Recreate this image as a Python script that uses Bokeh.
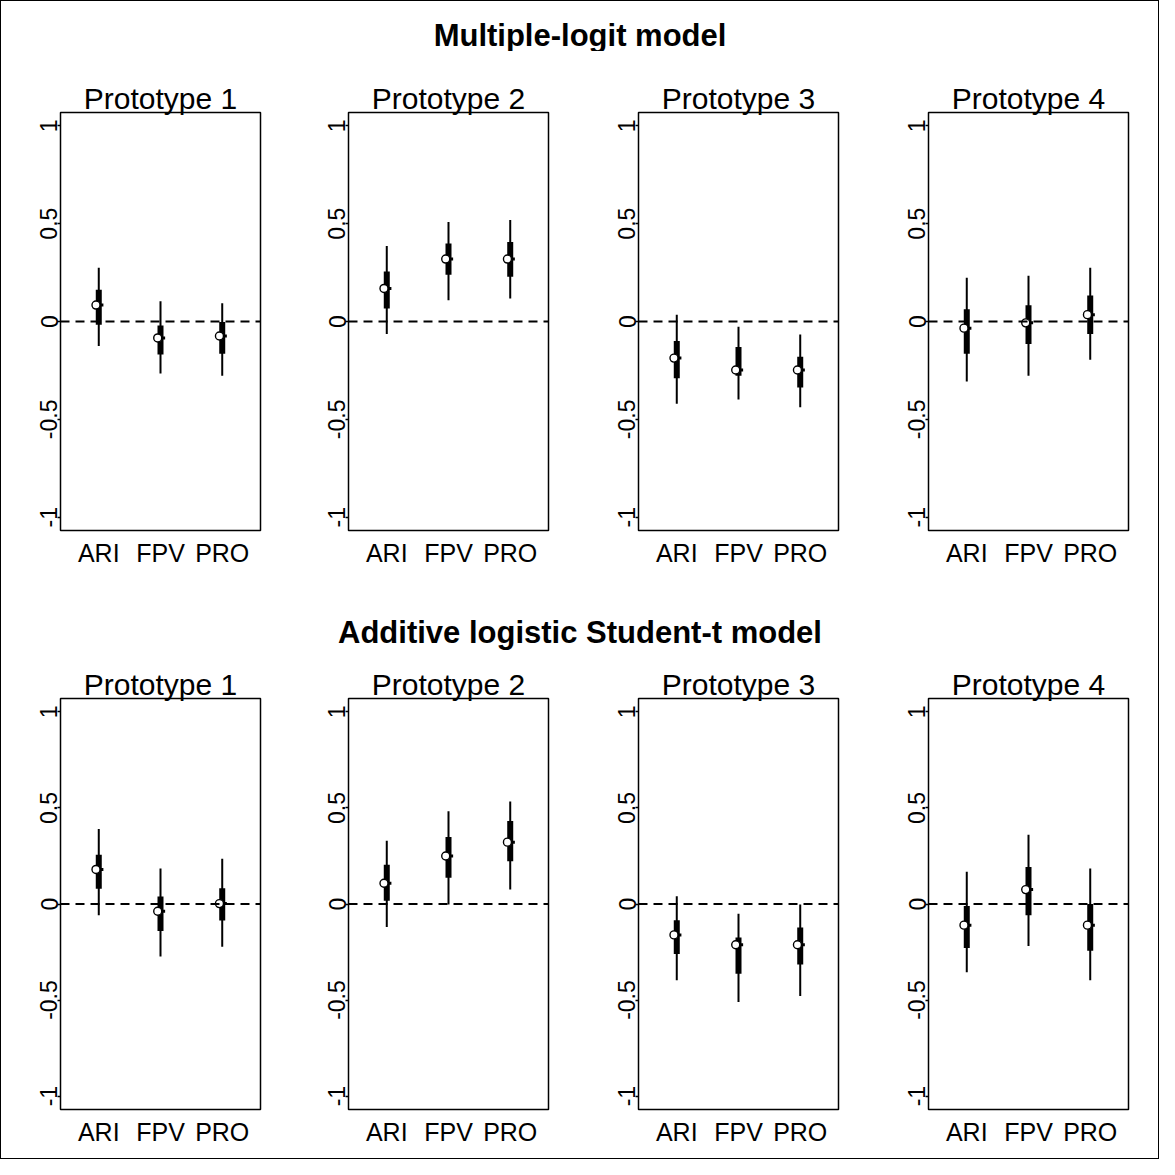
from bokeh.plotting import figure
from bokeh.layouts import column, row
from bokeh.models import Span, FixedTicker, ColumnDataSource, Range1d
from bokeh.transform import dodge
from bokeh.core.properties import value
from bokeh.embed import file_html
from bokeh.resources import INLINE

FONT = "Liberation Sans"

categories = ["ARI", "FPV", "PRO"]
prototypes = ["Prototype 1", "Prototype 2", "Prototype 3", "Prototype 4"]
model_titles = ["Multiple-logit model", "Additive logistic Student-t model"]
y_ticks = [-1, -0.5, 0, 0.5, 1]
y_tick_labels = ["-1", "-0.5", "0", "0.5", "1"]

# Multiple-logit model: per prototype, values for ARI, FPV, PRO
ml_lo95 = [[-0.125, -0.266, -0.277], [-0.064, 0.108, 0.118], [-0.420, -0.398, -0.438], [-0.307, -0.277, -0.196]]
ml_lo50 = [[-0.017, -0.169, -0.165], [0.067, 0.239, 0.229], [-0.290, -0.277, -0.337], [-0.165, -0.115, -0.064]]
ml_med = [[0.084, -0.084, -0.074], [0.169, 0.319, 0.319], [-0.187, -0.248, -0.248], [-0.034, -0.007, 0.035]]
ml_hi50 = [[0.162, -0.020, -0.003], [0.255, 0.398, 0.406], [-0.100, -0.130, -0.180], [0.062, 0.083, 0.133]]
ml_hi95 = [[0.275, 0.103, 0.093], [0.386, 0.508, 0.519], [0.034, -0.027, -0.067], [0.224, 0.234, 0.275]]

# Additive logistic Student-t model
st_lo95 = [[-0.058, -0.274, -0.223], [-0.120, -0.003, 0.075], [-0.397, -0.510, -0.479], [-0.356, -0.219, -0.397]]
st_lo50 = [[0.079, -0.140, -0.086], [0.017, 0.137, 0.223], [-0.260, -0.363, -0.315], [-0.229, -0.058, -0.243]]
st_med = [[0.180, -0.038, 0.002], [0.108, 0.250, 0.322], [-0.161, -0.212, -0.212], [-0.110, 0.075, -0.110]]
st_hi50 = [[0.257, 0.039, 0.082], [0.205, 0.349, 0.432], [-0.084, -0.175, -0.123], [-0.010, 0.193, 0.000]]
st_hi95 = [[0.390, 0.185, 0.236], [0.329, 0.483, 0.534], [0.041, -0.051, -0.003], [0.168, 0.361, 0.185]]

fig_widths = [295, 290, 290, 282]
fig_left = [59, 52, 52, 52]
FRAME_W = 200


def panel(title, lo95, lo50, med, hi50, hi95, w, left, top, fh, bottom, yr):
    p = figure(frame_width=FRAME_W, frame_height=fh,
               min_border_left=left, min_border_right=w - left - FRAME_W,
               min_border_top=top, min_border_bottom=bottom,
               x_range=Range1d(0.38, 3.62), y_range=Range1d(-yr, yr),
               output_backend="svg", toolbar_location=None, title=title)
    p.title.text_font = FONT
    p.title.text_font_size = "30px"
    p.title.text_font_style = "normal"
    p.title.align = "center"
    p.title.standoff = -4
    p.title.text_color = "black"

    xs = list(range(1, len(categories) + 1))
    src = ColumnDataSource(dict(x=xs, lo95=lo95, lo50=lo50, med=med, hi50=hi50, hi95=hi95))

    p.add_layout(Span(location=0, dimension="width", line_color="black",
                      line_width=2, line_dash="9 6"))
    p.segment(x0="x", y0="lo95", x1="x", y1="hi95", line_width=2, line_color="black", source=src)
    p.segment(x0="x", y0="lo50", x1="x", y1="hi50", line_width=6, line_color="black",
              line_cap="butt", source=src)
    p.segment(x0="x", y0="med", x1=dodge("x", 0.075, range=p.x_range), y1="med",
              line_width=3, line_color="black", source=src)
    p.scatter(x=dodge("x", -0.045, range=p.x_range), y="med", size=8, marker="circle",
              fill_color="white", line_color="black", line_width=1.4, source=src)

    p.xgrid.visible = False
    p.ygrid.visible = False
    p.outline_line_color = "black"
    p.outline_line_width = 1.5
    p.outline_line_alpha = 1.0

    p.xaxis.ticker = FixedTicker(ticks=xs)
    p.xaxis.major_label_overrides = {x: c for x, c in zip(xs, categories)}
    p.xaxis.major_tick_line_color = None
    p.xaxis.minor_tick_line_color = None
    p.xaxis.axis_line_color = None
    p.xaxis.major_label_text_font = FONT
    p.xaxis.major_label_text_font_size = "25px"
    p.xaxis.major_label_text_color = "black"
    p.xaxis.major_label_standoff = 2

    p.yaxis.ticker = FixedTicker(ticks=y_ticks)
    p.yaxis.major_label_overrides = {t: s for t, s in zip(y_ticks, y_tick_labels)}
    p.yaxis.major_label_orientation = "vertical"
    p.yaxis.axis_line_color = None
    p.yaxis.minor_tick_line_color = None
    p.yaxis.major_tick_out = 3
    p.yaxis.major_tick_in = 0
    p.yaxis.major_tick_line_width = 1.5
    p.yaxis.major_label_text_font = FONT
    p.yaxis.major_label_text_font_size = "23px"
    p.yaxis.major_label_text_color = "black"
    p.yaxis.major_label_standoff = 0
    return p


def header(text, h, yfrac):
    t = figure(width=sum(fig_widths), height=h, x_range=Range1d(0, 1), y_range=Range1d(0, 1),
               output_backend="svg", toolbar_location=None, min_border=0,
               x_axis_location=None, y_axis_location=None)
    t.outline_line_color = None
    t.grid.visible = False
    t.text(x=[0.5], y=[yfrac], text=[text], text_align="center", text_baseline="middle",
           text_font=value(FONT), text_font_size="31px", text_font_style="bold",
           text_color="black")
    return t


top_row = [panel(prototypes[i], ml_lo95[i], ml_lo50[i], ml_med[i], ml_hi50[i], ml_hi95[i],
                 fig_widths[i], fig_left[i], 61, 418, 56, 1.068) for i in range(4)]
bot_row = [panel(prototypes[i], st_lo95[i], st_lo50[i], st_med[i], st_hi50[i], st_hi95[i],
                 fig_widths[i], fig_left[i], 47, 411, 49, 1.07) for i in range(4)]

layout = column(header(model_titles[0], 50, 0.33), row(*top_row),
                header(model_titles[1], 65, 0.30), row(*bot_row),
                styles={"border": "1px solid black"})

open("out.html", "w").write(file_html(layout, INLINE))
